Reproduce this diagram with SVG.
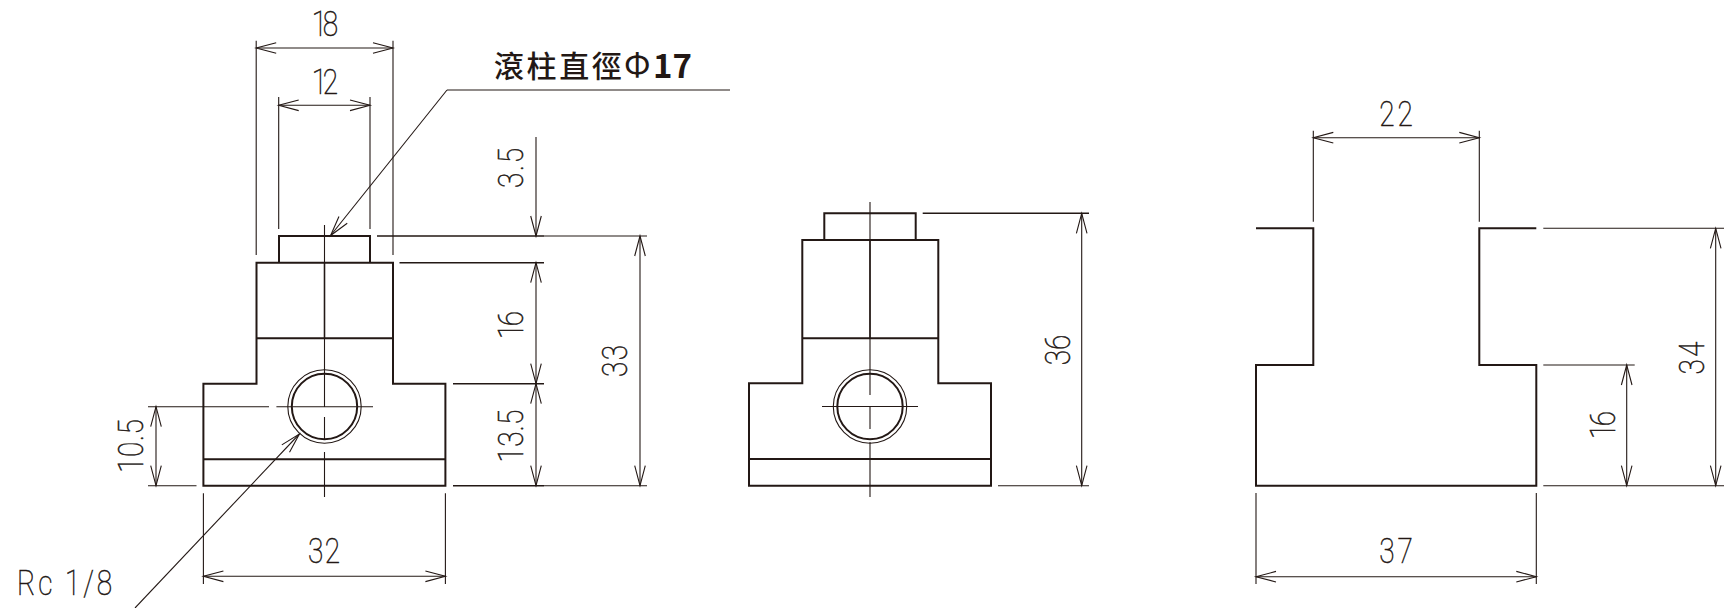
<svg xmlns="http://www.w3.org/2000/svg" width="1732" height="608" viewBox="0 0 1732 608">
<style>
.o{fill:none;stroke:#231815;stroke-width:2}
.m{fill:none;stroke:#231815;stroke-width:1.5}
.t{fill:none;stroke:#231815;stroke-width:1.1}
.a{fill:none;stroke:#231815;stroke-width:1.1;marker-start:url(#ar);marker-end:url(#ar)}
.e{fill:none;stroke:#231815;stroke-width:1.1;marker-end:url(#ar)}
.d{font-family:"Roboto","Liberation Sans",sans-serif;font-weight:100;font-size:35px;fill:#231815;stroke:#231815;stroke-width:.55}
</style>
<defs>
<marker id="ar" markerUnits="userSpaceOnUse" markerWidth="24" markerHeight="14" refX="21" refY="7" orient="auto-start-reverse" overflow="visible">
<path d="M1 1.7L21 7L1 12.3" fill="none" stroke="#231815" stroke-width="1.1"/>
</marker>
</defs>
<rect width="1732" height="608" fill="#fff"/>
<g id="view-front">
<path class="o" d="M279 262.7V236H370V262.7M256.5 338.3V262.7H393V338.3M256.5 338.3V383.7H203.4V485.7H445.4V383.7H393V338.3M256.5 338.3H393M203.4 459.3H445.4"/>
<circle class="o" cx="324.5" cy="406.5" r="32.7"/>
<circle class="t" cx="324.5" cy="406.5" r="36.7"/>
<path class="m" d="M324.5 263V338"/>
<path class="t" d="M324.5 225V406.5M324.5 417V440M324.5 452V497M148 406.7H269M276.4 406.7H373"/>
</g>
<g id="view-side">
<path class="o" d="M824.3 240V213.3H915.7V240M802.3 338.3V240H938.3V338.3M802.3 338.3V383.3H749V485.7H991V383.3H938.3V338.3M802.3 338.3H938.3M749 459H991"/>
<circle class="o" cx="870" cy="406.5" r="32.7"/>
<circle class="t" cx="870" cy="406.5" r="36.7"/>
<path class="m" d="M870 240V338"/>
<path class="t" d="M870 202V395M870 406.5V429M870 442V497M822 406.5H918"/>
</g>
<g id="view-section">
<path class="o" d="M1256 228.3H1313.3V365H1256V485.7H1536.3V365H1479.3V228.3H1536.3"/>
</g>
<g id="connectors">
<path class="t" d="M256.2 40.7V255M393 40.7V255M278.7 97V229M370 97V229M203.4 493.3V584M445.4 493.3V584"/>
<path class="m" d="M377 236H544M399.5 262.7H544M453 383.7H544M453 485.7H544"/>
<path class="t" d="M544 236H647M544 485.7H647M148 485.7H196.5"/>
<path class="a" d="M256.2 48H393"/>
<path class="a" d="M278.7 105.3H370"/>
<path class="a" d="M203.4 576.3H445.4"/>
<path class="a" d="M640 236V485.7"/>
<path class="a" d="M156 406.7V485.7"/>
<path class="e" d="M536 137V236"/>
<path class="a" d="M536 262.7V383.7"/>
<path class="a" d="M536 383.7V485.7"/>
<path class="e" d="M447 90L330.6 235.5"/>
<path class="t" d="M447 90H730"/>
<path class="e" d="M135 608L299.4 434"/>
<path class="m" d="M922.7 213.3H1089"/>
<path class="t" d="M998 485.7H1089"/>
<path class="a" d="M1081.7 213.3V485.7"/>
<path class="t" d="M1313.3 130.7V221.7M1479.3 130.7V221.7M1256 493V584M1536.3 493V584"/>
<path class="t" d="M1543.3 228.3H1724M1543.3 365H1634.7M1543.3 485.7H1724"/>
<path class="a" d="M1313.3 137.7H1479.3"/>
<path class="a" d="M1256 576.7H1536.3"/>
<path class="a" d="M1626.7 365V485.7"/>
<path class="a" d="M1715.7 228.3V485.7"/>
</g>
<g id="labels">
<text x="494" y="77" font-family="'Noto Sans CJK TC','Noto Sans CJK SC',sans-serif" font-weight="500" font-size="30" fill="#231815" letter-spacing="2.6">滾柱直徑</text>
<text x="624" y="77" font-family="'Noto Sans CJK TC',sans-serif" font-weight="400" font-size="33" fill="#231815">Φ</text>
<text x="653" y="77.5" font-family="'Noto Sans CJK TC',sans-serif" font-weight="600" font-size="33" fill="#231815">17</text>
<text class="d" transform="translate(325 36) scale(.8 1)" text-anchor="middle" textLength="33">18</text>
<text class="d" transform="translate(325 94) scale(.8 1)" text-anchor="middle" textLength="33">12</text>
<text class="d" transform="translate(324 563) scale(.8 1)" text-anchor="middle" textLength="40">32</text>
<text class="d" transform="translate(1396 126) scale(.8 1)" text-anchor="middle" textLength="42">22</text>
<text class="d" transform="translate(1396 563) scale(.8 1)" text-anchor="middle" textLength="42">37</text>
<text class="d" transform="translate(17 595) scale(.8 1)" textLength="119">Rc 1/8</text>
<text class="d" transform="translate(523 168) rotate(-90) scale(.8 1)" text-anchor="middle" textLength="50">3.5</text>
<text class="d" transform="translate(523 325) rotate(-90) scale(.8 1)" text-anchor="middle" textLength="35">16</text>
<text class="d" transform="translate(523 436) rotate(-90) scale(.8 1)" text-anchor="middle" textLength="66">13.5</text>
<text class="d" transform="translate(627 361) rotate(-90) scale(.8 1)" text-anchor="middle" textLength="40">33</text>
<text class="d" transform="translate(143 446) rotate(-90) scale(.8 1)" text-anchor="middle" textLength="67">10.5</text>
<text class="d" transform="translate(1070 350) rotate(-90) scale(.8 1)" text-anchor="middle" textLength="38">36</text>
<text class="d" transform="translate(1704 358) rotate(-90) scale(.8 1)" text-anchor="middle" textLength="41">34</text>
<text class="d" transform="translate(1615 425) rotate(-90) scale(.8 1)" text-anchor="middle" textLength="35">16</text>
</g>
</svg>
